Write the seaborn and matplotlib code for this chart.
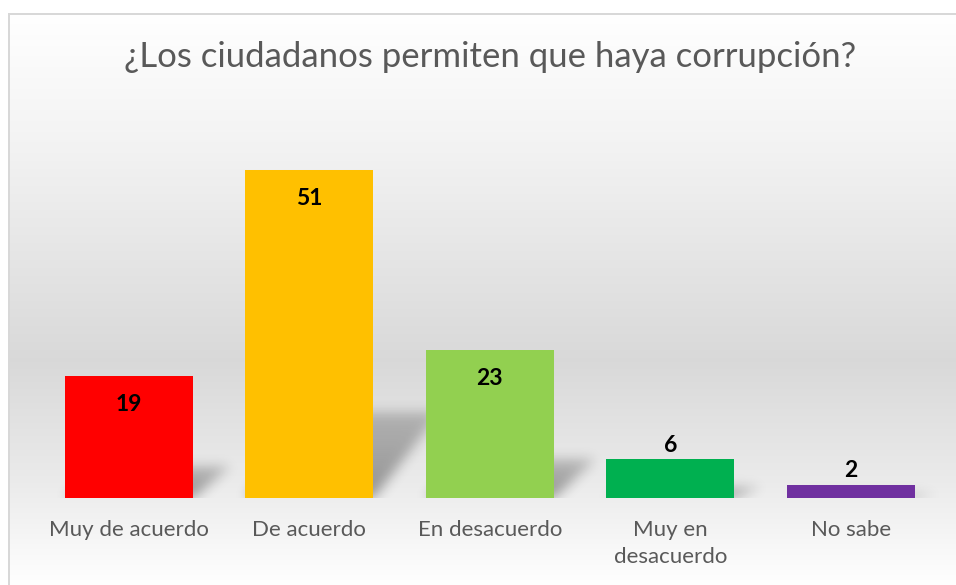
import numpy as np
import matplotlib
matplotlib.use("Agg")
import matplotlib.pyplot as plt
import seaborn as sns

categories = ["Muy de acuerdo", "De acuerdo", "En desacuerdo", "Muy en\ndesacuerdo", "No sabe"]
values = [19, 51, 23, 6, 2]
colors = ["#ff0000", "#ffc000", "#92d050", "#00b050", "#7030a0"]
title = "¿Los ciudadanos permiten que haya corrupción?"

sns.set_theme(style="white")
plt.rcParams["font.family"] = ["Lato", "DejaVu Sans"]

W, H = 956, 585
fig = plt.figure(figsize=(W / 100, H / 100), dpi=100)

# background: white canvas, chart box with vertical grey gradient and thin border
bg = fig.add_axes([0, 0, 1, 1], zorder=0)
rows = np.arange(H)
prof = np.interp(rows, [13, 150, 360, 480, 585], [1.0, 0.95, 0.85, 0.92, 1.0])
img = np.ones((H, W, 3))
img[13:, 8:, :] = prof[13:, None, None]
img[13:15, 8:, :] = 0.85
img[13:, 8:10, :] = 0.85
bg.imshow(img, aspect="auto", extent=(0, W, H, 0))
bg.set_axis_off()

ax = fig.add_axes([38.5 / W, 1 - 498 / H, (941 - 38.5) / W, (498 - 112) / H], zorder=1)
ax.patch.set_visible(False)

sns.barplot(x=categories, y=values, hue=categories, palette=colors, legend=False,
            width=0.71, saturation=1, linewidth=0, ax=ax, zorder=3)
ymax = 60
xlo, xhi = -0.5, len(categories) - 0.5

# soft perspective shadows behind the bars (blurred parallelograms)
nx, ny = 902, 386
gx = np.linspace(xlo, xhi, nx)
gy = np.linspace(0, ymax, ny)
X, Y = np.meshgrid(gx, gy)
shade = np.zeros((ny, nx))
for p, v in zip(ax.patches, values):
    x0 = p.get_x()
    x1 = x0 + p.get_width()
    top = 0.26 * v
    dx = 0.11 + 0.005 * v
    t = Y / top
    inside = (Y <= top) & (X >= x0 + dx * t) & (X <= x1 + dx * t)
    shade = np.maximum(shade, np.where(inside, 0.38 * (1 - 0.45 * t), 0))

k = np.exp(-0.5 * (np.arange(-18, 19) / 6.0) ** 2)
k /= k.sum()
shade = np.apply_along_axis(lambda r: np.convolve(r, k, mode="same"), 1, shade)
shade = np.apply_along_axis(lambda c: np.convolve(c, k, mode="same"), 0, shade)
rgba = np.zeros((ny, nx, 4))
rgba[..., 3] = shade
ax.imshow(rgba, extent=(xlo, xhi, 0, ymax), origin="lower", aspect="auto", zorder=2)

ax.set_ylim(0, ymax)
ax.set_xlim(xlo, xhi)

for p, v in zip(ax.patches, values):
    cx = p.get_x() + p.get_width() / 2
    if v >= 10:
        ax.text(cx, v - 4.5, str(v), ha="center", va="center", fontsize=16.5,
                fontweight="bold", color="black", zorder=4)
    else:
        ax.text(cx, v + 2.2, str(v), ha="center", va="center", fontsize=16.5,
                fontweight="bold", color="black", zorder=4)

sns.despine(ax=ax, left=True, bottom=True)
ax.set_yticks([])
ax.set_xlabel("")
ax.set_ylabel("")
ax.tick_params(axis="x", length=0, pad=16, labelsize=16, labelcolor="#595959")
for lbl in ax.get_xticklabels():
    lbl.set_linespacing(1.45)

fig.text(490 / W, 1 - 57 / H, title, ha="center", va="center", fontsize=25,
         color="#595959")

fig.savefig("out.png", dpi=100)
